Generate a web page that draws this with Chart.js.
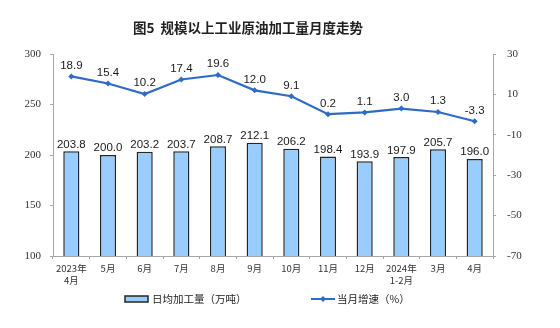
<!DOCTYPE html>
<html>
<head>
<meta charset="utf-8">
<script src="https://cdn.jsdelivr.net/npm/chart.js@4"></script>
<style>
  html, body { margin: 0; padding: 0; background: #fff; }
  #wrap { width: 560px; height: 328px; }
</style>
</head>
<body>
<div id="wrap"><canvas id="c" width="560" height="328"></canvas></div>
<script>
// Monthly crude oil processing volume (industrial enterprises above designated size)
const months = [["2023年", "4月"], "5月", "6月", "7月", "8月", "9月", "10月", "11月", "12月", ["2024年", "1-2月"], "3月", "4月"];
const dailyOutput = [203.8, 200.0, 203.2, 203.7, 208.7, 212.1, 206.2, 198.4, 193.9, 197.9, 205.7, 196.0];
const yoyGrowth = [18.9, 15.4, 10.2, 17.4, 19.6, 12.0, 9.1, 0.2, 1.1, 3.0, 1.3, -3.3];
const leftTicks = [100, 150, 200, 250, 300];
const rightTicks = [-70, -50, -30, -10, 10, 30];
const chartTitle = "图5  规模以上工业原油加工量月度走势";
const barLabel = "日均加工量（万吨）";
const lineLabel = "当月增速（%）";

const BAR_FILL = "#99CCFF";
const BAR_EDGE = "#262626";
const LINE_BLUE = "#2D6BC4";
const AXIS_GREY = "#A6A6A6";
const CJK = "'Noto Sans CJK SC', 'Noto Sans', sans-serif";

const decorations = {
  id: "decorations",
  afterDatasetsDraw(chart) {
    const ctx = chart.ctx;
    ctx.save();
    // value labels above the bars
    ctx.font = "11.5px 'Liberation Sans', Arial, sans-serif";
    ctx.fillStyle = "#1a1a1a";
    ctx.textAlign = "center";
    ctx.textBaseline = "bottom";
    const barMeta = chart.getDatasetMeta(0);
    barMeta.data.forEach((el, i) => {
      ctx.fillText(dailyOutput[i].toFixed(1), el.x, el.y - 1);
    });
    // value labels above the growth points
    const lineMeta = chart.getDatasetMeta(1);
    lineMeta.data.forEach((el, i) => {
      ctx.fillText(yoyGrowth[i].toFixed(1), el.x, el.y - 5);
    });
    ctx.restore();
  },
  afterDraw(chart) {
    const ctx = chart.ctx;
    ctx.save();
    // title
    ctx.font = "bold 13.5px " + CJK;
    ctx.fillStyle = "#222";
    ctx.textAlign = "center";
    ctx.textBaseline = "middle";
    ctx.fillText(chartTitle, 248, 28);

    // legend
    const ly = 299;
    ctx.font = "10.5px " + CJK;
    ctx.textAlign = "left";
    ctx.fillStyle = BAR_FILL;
    ctx.fillRect(125, ly - 3, 23, 6);
    ctx.strokeStyle = BAR_EDGE;
    ctx.lineWidth = 1.5;
    ctx.strokeRect(125, ly - 3, 23, 6);
    ctx.fillStyle = "#222";
    ctx.fillText(barLabel, 152, ly);

    ctx.strokeStyle = LINE_BLUE;
    ctx.lineWidth = 2;
    ctx.beginPath();
    ctx.moveTo(311, ly);
    ctx.lineTo(335, ly);
    ctx.stroke();
    ctx.fillStyle = LINE_BLUE;
    ctx.beginPath();
    ctx.moveTo(323, ly - 3);
    ctx.lineTo(326, ly);
    ctx.lineTo(323, ly + 3);
    ctx.lineTo(320, ly);
    ctx.closePath();
    ctx.fill();
    ctx.fillStyle = "#222";
    ctx.fillText(lineLabel, 337, ly);
    ctx.restore();
  }
};

new Chart(document.getElementById("c"), {
  data: {
    labels: months,
    datasets: [
      {
        type: "bar",
        label: barLabel,
        data: dailyOutput,
        yAxisID: "y",
        backgroundColor: BAR_FILL,
        borderColor: BAR_EDGE,
        borderWidth: 1.5,
        barPercentage: 0.44,
        categoryPercentage: 1,
        order: 2
      },
      {
        type: "line",
        label: lineLabel,
        data: yoyGrowth,
        yAxisID: "y1",
        borderColor: LINE_BLUE,
        backgroundColor: LINE_BLUE,
        borderWidth: 2.2,
        pointStyle: "rectRot",
        pointRadius: 3,
        pointBorderWidth: 0,
        tension: 0,
        order: 1
      }
    ]
  },
  options: {
    responsive: false,
    animation: false,
    devicePixelRatio: 1,
    layout: { padding: { top: 54, left: 0, right: 0, bottom: 0 } },
    plugins: {
      legend: { display: false },
      title: { display: false },
      tooltip: { enabled: false }
    },
    scales: {
      x: {
        offset: true,
        grid: { offset: true, drawOnChartArea: false, color: AXIS_GREY, tickLength: 3 },
        border: { color: AXIS_GREY, width: 1 },
        ticks: {
          color: "#333",
          font: { family: CJK, size: 9.5 },
          padding: 4,
          maxRotation: 0,
          autoSkip: false
        },
        afterFit(scale) { scale.height = 72; }
      },
      y: {
        position: "left",
        min: leftTicks[0],
        max: leftTicks[leftTicks.length - 1],
        afterBuildTicks(scale) { scale.ticks = leftTicks.map(v => ({ value: v })); },
        grid: { drawOnChartArea: false, color: AXIS_GREY, tickLength: 3 },
        border: { color: AXIS_GREY, width: 1 },
        ticks: {
          color: "#333",
          font: { family: "'Liberation Serif', 'Times New Roman', serif", size: 11 },
          padding: 9
        },
        afterFit(scale) { scale.width = 53; }
      },
      y1: {
        position: "right",
        min: rightTicks[0],
        max: rightTicks[rightTicks.length - 1],
        afterBuildTicks(scale) { scale.ticks = rightTicks.map(v => ({ value: v })); },
        grid: { drawOnChartArea: false, color: AXIS_GREY, tickLength: 3 },
        border: { color: AXIS_GREY, width: 1 },
        ticks: {
          color: "#333",
          font: { family: "'Liberation Serif', 'Times New Roman', serif", size: 11 },
          padding: 11
        },
        afterFit(scale) { scale.width = 67; }
      }
    }
  },
  plugins: [decorations]
});
</script>
</body>
</html>
